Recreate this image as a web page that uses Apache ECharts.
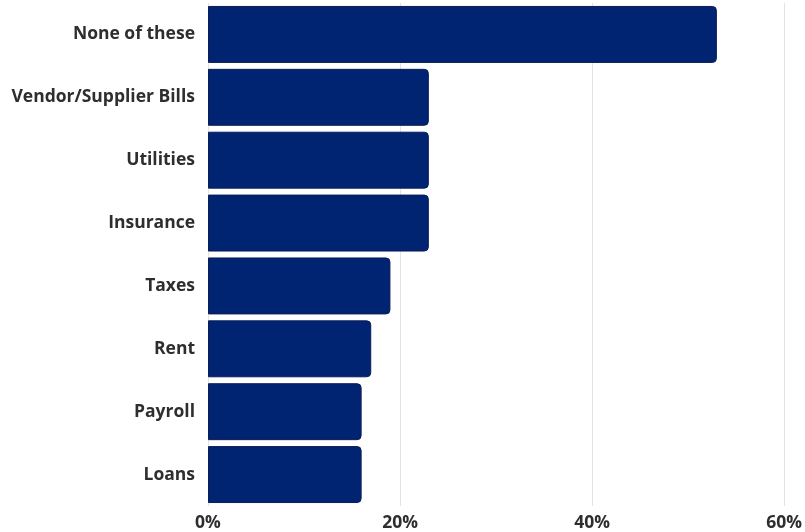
<!DOCTYPE html>
<html>
<head>
<meta charset="utf-8">
<script src="https://cdn.jsdelivr.net/npm/echarts@6/dist/echarts.min.js"></script>
<style>
  html, body { margin: 0; padding: 0; background: #ffffff; }
  #chart { width: 805px; height: 532px; }
</style>
</head>
<body>
<div id="chart"></div>
<script>
// Categories listed bottom-to-top (ECharts category y-axis starts at the bottom)
const categories = ['Loans', 'Payroll', 'Rent', 'Taxes', 'Insurance', 'Utilities', 'Vendor/Supplier Bills', 'None of these'];
// Share of respondents, percent
const shares = [16, 16, 17, 19, 23, 23, 23, 53];
const xTicks = { min: 0, max: 60, interval: 20 };

const chart = echarts.init(document.getElementById('chart'), null, { renderer: 'canvas' });

chart.setOption({
  animation: false,
  backgroundColor: '#ffffff',
  grid: { left: 208, right: 19.5, top: 3, bottom: 26, containLabel: false },
  xAxis: {
    type: 'value',
    min: xTicks.min,
    max: xTicks.max,
    interval: xTicks.interval,
    axisLine: { show: false },
    axisTick: { show: false },
    splitLine: { show: true, lineStyle: { color: '#e3e3e3', width: 1 } },
    axisLabel: {
      formatter: '{value}%',
      color: '#2e2e2e',
      fontFamily: 'Open Sans',
      fontWeight: 'bold',
      fontSize: 17.5,
      margin: 8
    }
  },
  yAxis: {
    type: 'category',
    data: categories,
    axisLine: { show: false },
    axisTick: { show: false },
    splitLine: { show: false },
    axisLabel: {
      color: '#2e2e2e',
      fontFamily: 'Open Sans',
      fontWeight: 'bold',
      fontSize: 17.5,
      margin: 13,
      padding: [4, 0, 0, 0]
    }
  },
  series: [{
    type: 'bar',
    data: shares,
    barCategoryGap: '9.4%',
    itemStyle: {
      color: '#002372',
      borderColor: '#0c1d55',
      borderWidth: 1,
      borderRadius: [0, 4, 4, 0]
    }
  }]
});
</script>
</body>
</html>
